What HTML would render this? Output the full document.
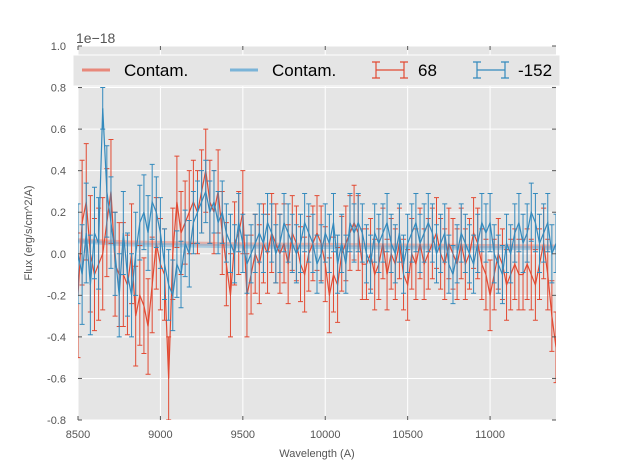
<!DOCTYPE html>
<html><head><meta charset="utf-8"><style>
body{margin:0;background:#fff;}
svg{font-family:"Liberation Sans","DejaVu Sans",sans-serif;}
</style></head><body>
<svg id="chart" width="617" height="467" viewBox="0 0 617 467">
<defs><clipPath id="pc"><rect x="78" y="46" width="478" height="374"/></clipPath></defs>
<rect x="78" y="46" width="478" height="374" fill="#e5e5e5"/>
<g id="grid"></g>
<g id="series" clip-path="url(#pc)"></g>
<g id="axes"></g>
<text x="76" y="43" font-size="14" fill="#555">1e−18</text>
<text x="317" y="457" font-size="11" fill="#555" text-anchor="middle">Wavelength (A)</text>
<text x="0" y="0" font-size="11" fill="#555" text-anchor="middle" transform="translate(32,233) rotate(-90)">Flux (erg/s/cm^2/A)</text>
<g>
<rect x="73" y="55" width="487" height="31" fill="#e5e5e5" stroke="#fff" stroke-width="1"/>
<g>
<line x1="82" y1="70" x2="110" y2="70" stroke="#e8887a" stroke-width="3"/>
<text x="124" y="76" font-size="17" fill="#000">Contam.</text></g>
<g>
<line x1="230" y1="70" x2="258" y2="70" stroke="#7ab4d8" stroke-width="3"/>
<text x="272" y="76" font-size="17" fill="#000">Contam.</text></g>
<g>
<path d="M376 70H404M376 62V78M404 62V78M372 62H380M372 78H380M400 62H408M400 78H408" stroke="#e24a33" stroke-width="1.2" fill="none"/>
<text x="418" y="76" font-size="17" fill="#000">68</text></g>
<g>
<path d="M477 70H505M477 62V78M505 62V78M473 62H481M473 78H481M501 62H509M501 78H509" stroke="#348abd" stroke-width="1.2" fill="none"/>
<text x="518" y="76" font-size="17" fill="#000">-152</text></g>
</g>
</svg>
<script>
const xTicks=[8500,9000,9500,10000,10500,11000];
const yTicks=[-0.8,-0.6,-0.4,-0.2,0.0,0.2,0.4,0.6,0.8,1.0];
const xStart=8500, xEnd=11400;
const red=[-0.2,0.15,0.25,0.0,-0.1,-0.05,0.0,0.15,0.3,-0.05,-0.1,-0.1,-0.15,0.0,-0.3,-0.2,-0.25,-0.35,-0.15,0.05,-0.05,-0.1,-0.6,0.0,0.25,0.1,0.15,0.2,0.25,0.2,0.3,0.4,0.25,0.2,0.3,0.1,-0.05,-0.2,0.05,0.1,0.2,-0.2,-0.1,0.0,-0.05,0.05,0.0,0.1,0.05,0.0,0.05,-0.05,0.1,0.05,-0.05,-0.1,0.0,0.05,0.1,0.05,-0.05,-0.2,-0.1,-0.15,0.0,0.05,0.1,0.15,0.1,-0.05,-0.05,0.0,-0.1,-0.05,0.05,-0.1,0.0,-0.05,0.05,-0.1,-0.15,0.0,-0.05,0.05,-0.05,0.0,0.05,0.1,0.0,-0.05,0.05,0.0,-0.05,0.05,-0.05,0.0,0.1,0.05,-0.05,-0.1,-0.2,-0.1,0.0,-0.05,-0.15,-0.1,-0.05,-0.1,-0.1,-0.05,-0.1,-0.15,-0.05,0.05,-0.1,-0.3,-0.45];
const redErr=[0.3,0.3,0.28,0.28,0.27,0.27,0.27,0.26,0.25,0.25,0.25,0.25,0.24,0.24,0.24,0.24,0.23,0.23,0.23,0.22,0.22,0.22,0.2,0.22,0.22,0.2,0.2,0.2,0.2,0.2,0.2,0.2,0.2,0.2,0.2,0.2,0.2,0.2,0.2,0.2,0.2,0.2,0.19,0.19,0.19,0.19,0.19,0.19,0.19,0.19,0.19,0.19,0.18,0.18,0.18,0.18,0.18,0.18,0.18,0.18,0.18,0.18,0.18,0.18,0.18,0.18,0.18,0.18,0.18,0.17,0.17,0.17,0.17,0.17,0.17,0.17,0.17,0.17,0.17,0.17,0.17,0.17,0.17,0.17,0.17,0.17,0.17,0.17,0.17,0.17,0.17,0.17,0.17,0.17,0.17,0.17,0.17,0.17,0.17,0.17,0.17,0.17,0.17,0.17,0.17,0.17,0.17,0.17,0.17,0.17,0.17,0.17,0.17,0.17,0.17,0.17,0.17];
const blue=[0.0,-0.1,0.1,-0.15,0.1,0.05,0.7,0.3,0.15,0.0,-0.2,0.1,-0.1,-0.2,0.0,0.15,0.2,0.1,0.25,0.2,0.1,-0.05,-0.15,-0.2,-0.05,-0.1,0.05,0.0,0.15,0.2,0.25,0.3,0.2,0.25,0.15,0.2,0.1,0.05,0.0,0.15,0.05,-0.05,0.0,0.05,0.1,0.05,0.15,0.1,0.0,0.05,0.15,0.1,0.05,0.0,0.05,0.15,0.1,0.05,-0.05,0.0,0.1,0.05,0.15,-0.05,0.05,-0.05,0.15,0.1,0.15,0.1,0.0,-0.05,0.1,0.05,0.1,0.15,0.05,0.0,0.1,-0.05,0.05,0.1,0.15,0.05,0.1,0.15,0.1,0.0,0.05,0.1,-0.05,-0.1,0.0,0.1,0.05,0.0,-0.05,0.05,0.15,0.1,0.15,0.0,-0.05,-0.1,0.05,0.0,0.1,0.15,0.05,0.1,0.2,0.15,0.05,0.1,0.15,0.0,0.05];
const blueErr=[0.24,0.24,0.24,0.24,0.22,0.22,0.1,0.22,0.22,0.2,0.2,0.2,0.2,0.2,0.2,0.18,0.18,0.18,0.18,0.17,0.17,0.17,0.17,0.17,0.16,0.16,0.16,0.16,0.15,0.15,0.15,0.15,0.15,0.15,0.15,0.15,0.14,0.14,0.14,0.14,0.14,0.14,0.14,0.14,0.14,0.14,0.14,0.14,0.14,0.14,0.14,0.14,0.14,0.14,0.14,0.14,0.14,0.14,0.14,0.14,0.14,0.14,0.14,0.14,0.14,0.14,0.14,0.14,0.14,0.14,0.14,0.14,0.14,0.14,0.14,0.14,0.14,0.14,0.14,0.14,0.14,0.14,0.14,0.14,0.14,0.14,0.14,0.14,0.14,0.14,0.14,0.14,0.14,0.14,0.14,0.14,0.14,0.14,0.14,0.14,0.14,0.14,0.14,0.14,0.14,0.14,0.14,0.14,0.14,0.14,0.14,0.14,0.14,0.14,0.14,0.14,0.14];
const contamX=[8500,8800,9500,10500,11400];
const contamRed=[0.065,0.055,0.045,0.04,0.035];
const contamBlue=[0.06,0.045,0.035,0.03,0.028];

const NS='http://www.w3.org/2000/svg';
const L=78,R=556,T=46,B=420;
const xs=v=>L+(v-8500)/(11400-8500)*(R-L);
const ys=v=>T+(1.0-v)/(1.8)*(B-T);
function mk(tag,attrs,parent){const e=document.createElementNS(NS,tag);for(const k in attrs)e.setAttribute(k,attrs[k]);parent.appendChild(e);return e;}
const grid=document.getElementById('grid'),axes=document.getElementById('axes'),ser=document.getElementById('series');
xTicks.forEach(t=>{const x=xs(t);
 const g=mk('line',{x1:x,x2:x,y1:T,y2:B,stroke:'#fff','stroke-width':1},grid);
 
 mk('line',{x1:x,x2:x,y1:B,y2:B-4,stroke:'#555'},axes);
 mk('line',{x1:x,x2:x,y1:T,y2:T+4,stroke:'#555'},axes);
 const tx=mk('text',{x:x,y:B+18,'font-size':11,fill:'#555','text-anchor':'middle'},axes);tx.textContent=t;
 });
yTicks.forEach(t=>{const y=ys(t);
 const g=mk('line',{x1:L,x2:R,y1:y,y2:y,stroke:'#fff','stroke-width':1},grid);
 
 mk('line',{x1:L,x2:L+4,y1:y,y2:y,stroke:'#555'},axes);
 mk('line',{x1:R,x2:R-4,y1:y,y2:y,stroke:'#555'},axes);
 const tx=mk('text',{x:L-12,y:y+4,'font-size':11,fill:'#555','text-anchor':'end'},axes);tx.textContent=t.toFixed(1);
 });
function xAt(i,n){return xStart+i*(xEnd-xStart)/(n-1);}
function contam(vals,color,name){
 const d=contamX.map((x,i)=>(i?'L':'M')+xs(x)+' '+ys(vals[i])).join('');
 const p=mk('path',{d:d,stroke:color,'stroke-width':4,'stroke-opacity':0.55,fill:'none'},ser);
 }
function errSeries(vals,errs,color,name){
 const g=mk('g',{},ser);
 
 const n=vals.length;let d='';
 vals.forEach((v,i)=>{const x=xs(xAt(i,n));const e=errs[i]||0.15;const y1=ys(v+e),y2=ys(v-e);
  d+='M'+x+' '+y1+'V'+y2+'M'+(x-2.5)+' '+y1+'H'+(x+2.5)+'M'+(x-2.5)+' '+y2+'H'+(x+2.5);});
 mk('path',{d:d,stroke:color,'stroke-width':1,fill:'none'},g);
 const ld=vals.map((v,i)=>(i?'L':'M')+xs(xAt(i,n))+' '+ys(v)).join('');
 mk('path',{d:ld,stroke:color,'stroke-width':1.2,fill:'none'},g);}
contam(contamRed,'#e8887a','contam-red-line');
contam(contamBlue,'#7ab4d8','contam-blue-line');
errSeries(red,redErr,'#e24a33','series-68');
errSeries(blue,blueErr,'#348abd','series-neg152');
</script>
</body></html>
